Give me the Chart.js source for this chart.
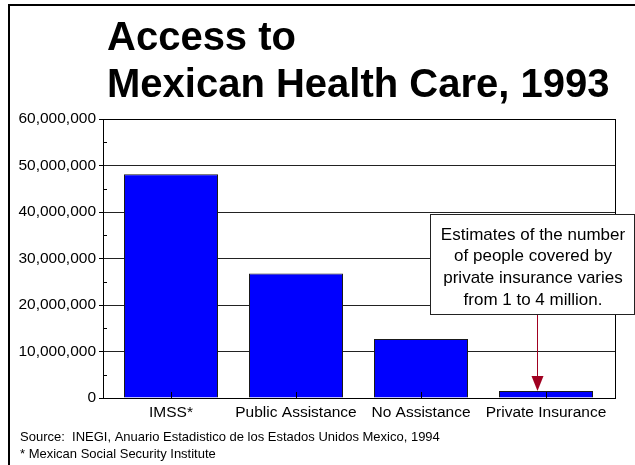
<!DOCTYPE html>
<html>
<head>
<meta charset="utf-8">
<script src="https://cdn.jsdelivr.net/npm/chart.js@4/dist/chart.umd.min.js"></script>
<style>
  html, body { margin: 0; padding: 0; background: #fff; }
  #wrap { width: 635px; height: 465px; position: relative; }
</style>
</head>
<body>
<div id="wrap"><canvas id="chart"></canvas></div>
<script>
// data
const categories = ['IMSS*', 'Public Assistance', 'No Assistance', 'Private Insurance']
const people = [48100000, 26800000, 12700000, 1500000]
const yTicks = [0, 10000000, 20000000, 30000000, 40000000, 50000000, 60000000]

const titleLines = ['Access to', 'Mexican Health Care, 1993']
const noteLines = ['Estimates of the number', 'of people covered by', 'private insurance varies', 'from 1 to 4 million.']
const footLines = ['Source:  INEGI, Anuario Estadistico de los Estados Unidos Mexico, 1994', '* Mexican Social Security Institute']

const FONT = '"Liberation Sans", Arial, sans-serif'

const slideDecor = {
    id: 'slideDecor',
    beforeDraw(chart) {
        const ctx = chart.ctx
        ctx.save()
        // slide frame, top and left only
        ctx.strokeStyle = '#000'
        ctx.lineWidth = 2
        ctx.beginPath()
        ctx.moveTo(9, 465)
        ctx.lineTo(9, 5)
        ctx.lineTo(635, 5)
        ctx.stroke()

        ctx.fillStyle = '#000'
        ctx.textBaseline = 'alphabetic'
        ctx.textAlign = 'left'
        ctx.font = 'bold 40px ' + FONT
        ctx.fillText(titleLines[0], 107, 50)
        ctx.fillText(titleLines[1], 107, 97)

        ctx.font = '13px ' + FONT
        ctx.fillText(footLines[0], 20, 441)
        ctx.fillText(footLines[1], 20, 458)
        ctx.restore()
    },
    afterDatasetsDraw(chart) {
        const {ctx, chartArea: area, scales} = chart
        ctx.save()
        ctx.strokeStyle = '#000'
        ctx.lineWidth = 1
        // inward category ticks
        categories.forEach((c, i) => {
            const x = Math.round(scales.x.getPixelForValue(i)) + 0.5
            ctx.beginPath()
            ctx.moveTo(x, area.bottom)
            ctx.lineTo(x, area.bottom - 6)
            ctx.stroke()
        })
        // inward minor ticks on y axis
        for (let i = 0; i < yTicks.length - 1; i++) {
            const v = (yTicks[i] + yTicks[i + 1]) / 2
            const y = Math.round(scales.y.getPixelForValue(v)) + 0.5
            ctx.beginPath()
            ctx.moveTo(area.left, y)
            ctx.lineTo(area.left + 4, y)
            ctx.stroke()
        }
        // plot frame
        ctx.strokeRect(Math.round(area.left) + 0.5, Math.round(area.top) + 0.5,
            Math.round(area.right - area.left), Math.round(area.bottom - area.top))
        ctx.restore()
    },
    afterDraw(chart) {
        const {ctx, scales} = chart
        ctx.save()
        // callout box
        const bx = 430, by = 214, bw = 204, bh = 100
        ctx.fillStyle = '#fff'
        ctx.fillRect(bx, by, bw, bh)
        ctx.strokeStyle = '#222'
        ctx.lineWidth = 1
        ctx.strokeRect(bx + 0.5, by + 0.5, bw, bh)
        ctx.fillStyle = '#000'
        ctx.font = '17px ' + FONT
        ctx.textAlign = 'center'
        ctx.textBaseline = 'middle'
        noteLines.forEach((t, i) => ctx.fillText(t, bx + bw / 2 + 1, by + 21 + i * 21.7))

        // arrow down to the private insurance bar
        const ax = 537.5
        const tip = scales.y.getPixelForValue(people[3])
        ctx.strokeStyle = '#a00020'
        ctx.fillStyle = '#a00020'
        ctx.beginPath()
        ctx.moveTo(ax, by + bh + 1)
        ctx.lineTo(ax, tip - 10)
        ctx.stroke()
        ctx.beginPath()
        ctx.moveTo(ax - 6, tip - 15)
        ctx.lineTo(ax + 6, tip - 15)
        ctx.lineTo(ax, tip)
        ctx.closePath()
        ctx.fill()
        ctx.restore()
    }
}

new Chart(document.getElementById('chart'), {
    type: 'bar',
    plugins: [slideDecor],
    data: {
        datasets: [{
            data: people.map((v, i) => ({x: i, y: v})),
            backgroundColor: '#0000ff',
            borderColor: '#1a1a1a',
            borderWidth: 1,
            borderSkipped: 'bottom',
            categoryPercentage: 1,
            barPercentage: 0.752
        }]
    },
    options: {
        responsive: true,
        maintainAspectRatio: false,
        animation: false,
        layout: {padding: {top: 119, right: 20, left: 0, bottom: 0}},
        plugins: {legend: {display: false}, tooltip: {enabled: false}, title: {display: false}},
        scales: {
            x: {
                type: 'linear',
                offset: false,
                min: -0.544,
                max: 3.552,
                afterBuildTicks(scale) { scale.ticks = categories.map((c, i) => ({value: i})) },
                grid: {display: false, drawTicks: false},
                border: {display: true, color: '#000'},
                ticks: {
                    color: '#000',
                    font: {family: FONT, size: 15.5},
                    padding: 5,
                    autoSkip: false,
                    maxRotation: 0,
                    callback: v => categories[v]
                },
                afterFit(scale) { scale.height = 67 }
            },
            y: {
                min: 0,
                max: 60000000,
                afterBuildTicks(scale) { scale.ticks = yTicks.map(v => ({value: v})) },
                grid: {color: '#222', lineWidth: 1, tickLength: 4, drawTicks: true, tickColor: '#000'},
                border: {display: true, color: '#000'},
                ticks: {
                    color: '#000',
                    font: {family: FONT, size: 15.5},
                    padding: 3,
                    callback: v => v.toLocaleString('en-US')
                },
                afterFit(scale) { scale.width = 103 }
            }
        }
    }
})
</script>
</body>
</html>
